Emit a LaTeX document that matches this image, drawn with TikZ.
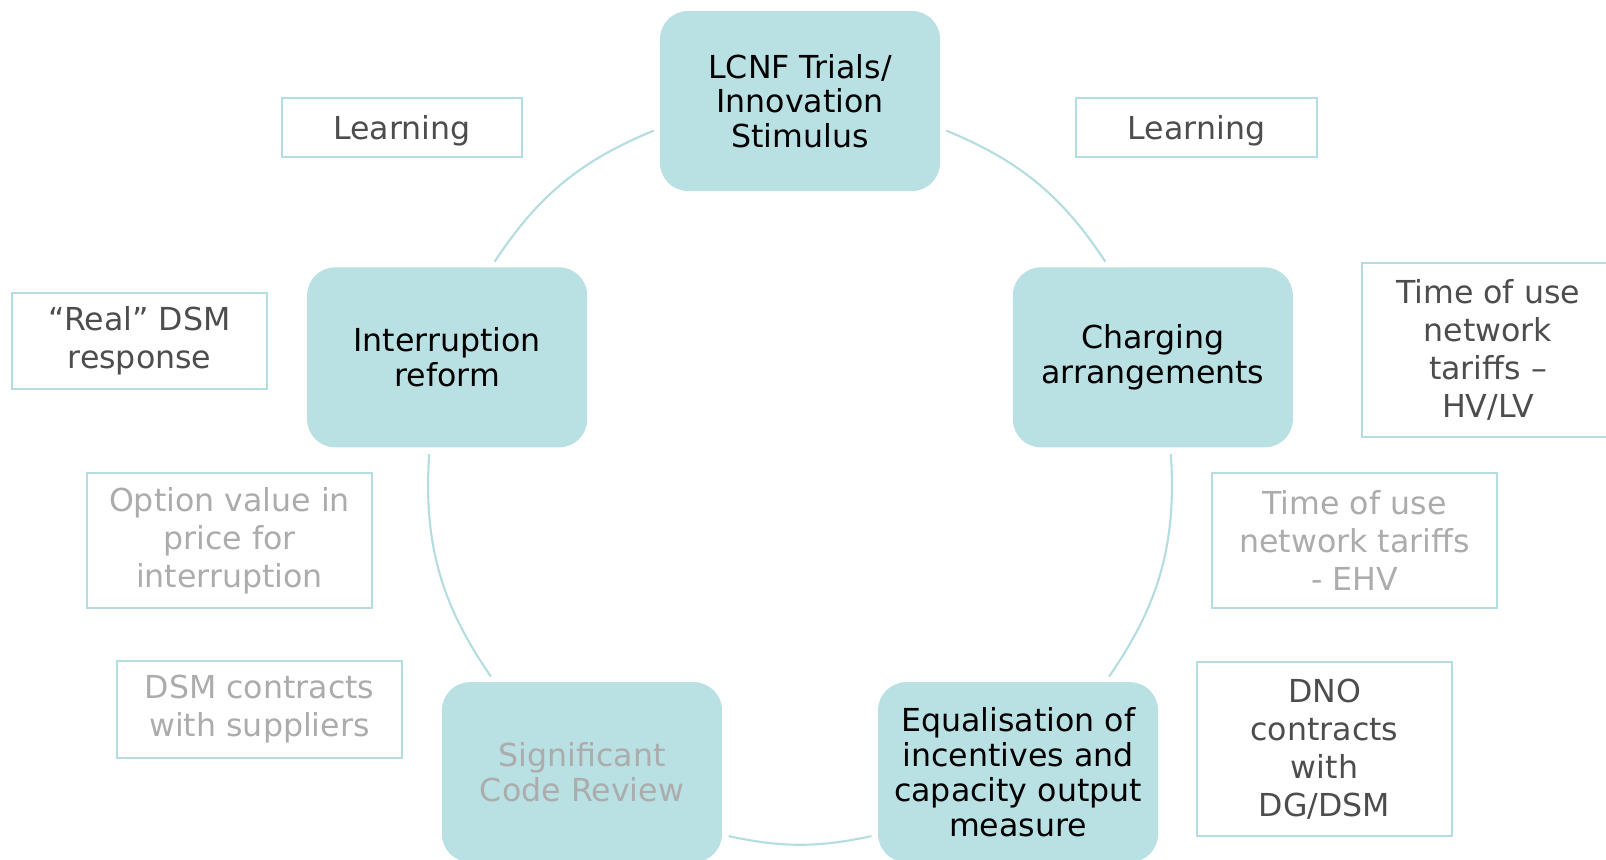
\documentclass[tikz,border=0pt]{standalone}
\usepackage{fontspec}
\setmainfont{DejaVu Sans}
\usepackage{tikz}
\definecolor{stagefill}{RGB}{185, 224, 227}
\definecolor{ringline}{RGB}{180, 221, 225}
\definecolor{darktext}{RGB}{77, 77, 77}
\definecolor{fadedtext}{RGB}{172, 172, 172}

\begin{document}
\begin{tikzpicture}[
                stage/.style = {
                    rectangle,
                    rounded corners = 0.28cm,
                    fill = stagefill,
                    minimum width = 2.8cm,
                    minimum height = 1.8cm,
                    inner sep = 0pt,
                    align = center,
                    font = \fontsize{9}{9.9}\selectfont,
                    execute at begin node = {\rule{0pt}{7.8pt}}
                },
                note/.style = {
                    rectangle,
                    draw = ringline,
                    line width = 0.6pt,
                    inner sep = 0pt,
                    align = center,
                    text = darktext,
                    font = \fontsize{9}{10.8}\selectfont,
                    execute at begin node = {\rule{0pt}{8.9pt}}
                },
                faded/.style = {text = fadedtext},
                ring/.style = {
                    draw = ringline,
                    line width = 0.6pt,
                    shorten > = 0.06cm,
                    shorten < = 0.06cm
                }
                ]
                \useasboundingbox (0,0) rectangle (16.06,8.59);
                \coordinate (hub) at (8.0,3.87);

                % the five stages round the cycle
                \node[stage] (lcnf) at ([shift={(90:3.71)}]hub) {LCNF Trials/\\Innovation\\Stimulus};
                \node[stage] (intr) at ([shift={(162:3.71)}]hub) {Interruption\\reform};
                \node[stage, text = fadedtext] (scr) at ([shift={(234:3.71)}]hub) {Significant\\Code Review};
                \node[stage] (equal) at ([shift={(306:3.71)}]hub) {Equalisation of\\incentives and\\capacity output\\measure};
                \node[stage] (charg) at ([shift={(18:3.71)}]hub) {Charging\\arrangements};

                % side notes
                \node[note, minimum width=2.40cm, minimum height=0.59cm] (learnl) at (4.02,7.315) {Learning};
                \node[note, minimum width=2.41cm, minimum height=0.59cm] (learnr) at (11.965,7.315) {Learning};
                \node[note, minimum width=2.55cm, minimum height=0.96cm] (realdsm) at (1.395,5.18) {“Real” DSM\\response};
                \node[note, faded, minimum width=2.85cm, minimum height=1.35cm] (optval) at (2.295,3.185) {Option value in\\price for\\interruption};
                \node[note, faded, minimum width=2.85cm, minimum height=0.97cm] (dsmsup) at (2.595,1.495) {DSM contracts\\with suppliers};
                \node[note, minimum width=2.52cm, minimum height=1.74cm] (touhv) at (14.88,5.09) {Time of use\\network\\tariffs –\\HV/LV};
                \node[note, faded, minimum width=2.85cm, minimum height=1.35cm] (touehv) at (13.545,3.185) {Time of use\\network tariffs\\- EHV};
                \node[note, minimum width=2.55cm, minimum height=1.74cm] (dno) at (13.245,1.10) {DNO\\contracts\\with\\DG/DSM};

                % arcs of the cycle
                \path[ring] (lcnf.191) edge[bend right=17.2] (intr.64);
                \path[ring] (intr.259) edge[bend right=19.2] (scr.134);
                \path[ring] (scr.336) edge[bend right=12.3] (equal.204);
                \path[ring] (equal.46) edge[bend right=19.2] (charg.281);
                \path[ring] (charg.116) edge[bend right=17.2] (lcnf.349);
            \end{tikzpicture}
\end{document}
